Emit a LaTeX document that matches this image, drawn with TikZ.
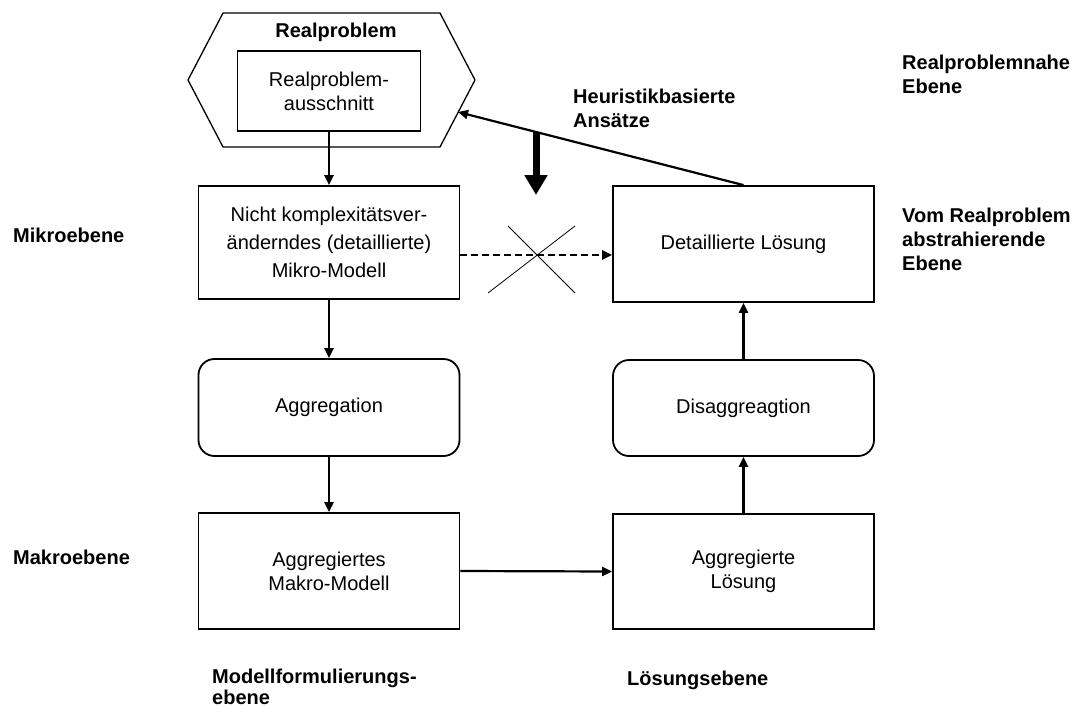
\documentclass[tikz,border=0pt]{standalone}
\usepackage{fontspec}
\setmainfont{Liberation Sans}
\usetikzlibrary{arrows.meta}

\tikzset{
  box/.style={draw, line width=1.8pt, minimum width=261pt, align=center,
    inner sep=0pt, font=\fontsize{20}{24}\selectfont},
  roundbox/.style={box, rounded corners=16pt},
  flow/.style={line width=2.2pt, -{Triangle[length=10pt,width=9pt]}},
  level/.style={anchor=base west, align=left, inner sep=0pt,
    font=\fontsize{20}{24}\selectfont\bfseries},
  cross/.style={line width=0.8pt},
}

\begin{document}
\begin{tikzpicture}[x=1pt, y=-1pt]
\useasboundingbox (0,0) rectangle (1082,707);

% hexagon around the real problem
\draw[line width=1.3pt] (188,80) -- (223,13) -- (440,13) -- (475,80)
  -- (440,147) -- (223,147) -- cycle;
\coordinate (hexedge) at (458,112);
\node[anchor=base, inner sep=0pt, font=\fontsize{20}{24}\selectfont\bfseries]
  (real) at (336,37) {Realproblem};
\node[box, minimum width=183pt, minimum height=80pt] (cut) at (329,91)
  {Realproblem-\\ausschnitt};

% left column: model formulation
\node[box, minimum height=113pt, font=\fontsize{20}{28}\selectfont]
  (micro) at (329,242.5)
  {Nicht komplexitätsver-\\änderndes (detaillierte)\\Mikro-Modell};
\node[roundbox, minimum height=97pt] (agg) at (329,407.5) {Aggregation};
\node[box, minimum height=116pt] (makro) at (329,571)
  {Aggregiertes\\Makro-Modell};

% right column: solutions
\node[box, minimum height=116pt] (det) at (743.5,244) {Detaillierte Lösung};
\node[roundbox, minimum height=96pt] (disagg) at (743.5,408) {Disaggreagtion};
\node[box, minimum height=115pt] (agl) at (743.5,571.5)
  {Aggregierte\\Lösung};

% connectors
\draw[flow] (cut.south) -- (micro.north);
\draw[flow] (micro.south) -- (agg.north);
\draw[flow] (agg.south) -- (makro.north);
\draw[flow] (makro.east) -- (agl.west);
\draw[flow] (agl.north) -- (disagg.south);
\draw[flow] (disagg.north) -- (det.south);
\draw[flow, dash pattern=on 7pt off 4pt]
  ([yshift=-12.5pt]micro.east) -- ([yshift=-12.5pt]micro.east -| det.west);
\draw[flow] (det.north) -- (hexedge);

% heuristic shortcut
\coordinate (hstart) at (536,132);
\coordinate (hend) at (536,195);
\draw[line width=7pt, -{Triangle[length=20pt,width=22pt]}] (hstart) -- (hend);
\draw[cross] (508,226) -- (575,293);
\draw[cross] (575,226) -- (488,293);

% level labels (anchored at the baseline of the last line)
\node[level] (heur) at (573,127) {Heuristikbasierte\\Ansätze};
\node[level] (nah) at (902,93) {Realproblemnahe\\Ebene};
\node[level] (abs) at (902,270) {Vom Realproblem\\abstrahierende\\Ebene};
\node[level] (mikro) at (13,242) {Mikroebene};
\node[level] (makrol) at (13,564) {Makroebene};
\node[level, font=\fontsize{20}{21}\selectfont\bfseries] (modl) at (212,704)
  {Modellformulierungs-\\ebene};
\node[level] (loes) at (627,685) {Lösungsebene};
\end{tikzpicture}
\end{document}
